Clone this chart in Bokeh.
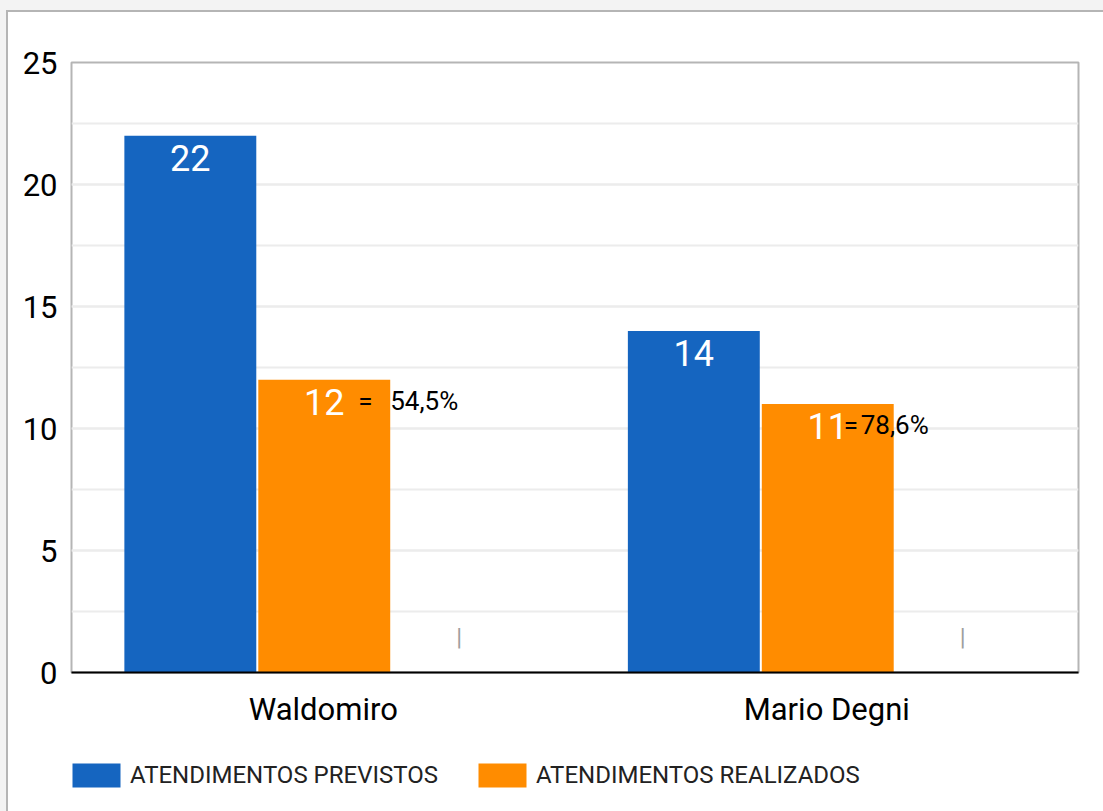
from bokeh.plotting import figure
from bokeh.layouts import column
from bokeh.models import (ColumnDataSource, FactorRange, Range1d, SingleIntervalTicker,
                          Legend, LegendItem, GlobalInlineStyleSheet)
from bokeh.transform import dodge
from bokeh.core.properties import value
from bokeh.embed import file_html
from bokeh.resources import INLINE

# ---- data ----
categories = ["Waldomiro", "Mario Degni"]
previstos = [22, 14]
realizados = [12, 11]
extra = [0, 0]
previstos_labels = ["22", "14"]
realizados_labels = ["12", "11"]
equals_labels = ["=", "="]
percent_labels = ["54,5%", "78,6%"]
extra_labels = ["|", "|"]
series_names = ["ATENDIMENTOS PREVISTOS", "ATENDIMENTOS REALIZADOS"]

# styles (pixel offsets of the annotations)
eq_offsets = [34, 16]
pct_offsets = [66, 33]

BLUE = "#1565C0"
ORANGE = "#FF8C00"
FONT = "Roboto"

src = ColumnDataSource(dict(
    cat=categories, prev=previstos, real=realizados, extra=extra,
    prev_lab=previstos_labels, real_lab=realizados_labels,
    eq=equals_labels, pct=percent_labels, extra_lab=extra_labels,
    eq_off=eq_offsets, pct_off=pct_offsets,
))

p = figure(x_range=FactorRange(factors=categories, range_padding=0),
           y_range=Range1d(0, 25),
           width=1095, height=720,
           min_border_left=63, min_border_right=25,
           min_border_top=50, min_border_bottom=60,
           output_backend="svg", toolbar_location=None)

W = 0.262
r1 = p.vbar(x=dodge("cat", -0.264, range=p.x_range), top="prev", width=W,
            source=src, fill_color=BLUE, line_color=None)
r2 = p.vbar(x=dodge("cat", 0.002, range=p.x_range), top="real", width=W,
            source=src, fill_color=ORANGE, line_color=None)

# value labels inside bars
p.text(x=dodge("cat", -0.264, range=p.x_range), y="prev", text="prev_lab", source=src,
       text_color="white", text_font=value(FONT), text_font_size="36px",
       text_align="center", text_baseline="top", y_offset=9)
p.text(x=dodge("cat", 0.002, range=p.x_range), y="real", text="real_lab", source=src,
       text_color="white", text_font=value(FONT), text_font_size="36px",
       text_align="center", text_baseline="top", y_offset=9)
# "=" and percentage annotations
p.text(x=dodge("cat", 0.002, range=p.x_range), y="real", text="eq", source=src,
       x_offset="eq_off", y_offset=6,
       text_color="black", text_font=value(FONT), text_font_size="26px",
       text_align="left", text_baseline="top")
p.text(x=dodge("cat", 0.002, range=p.x_range), y="real", text="pct", source=src,
       x_offset="pct_off", y_offset=6,
       text_color="black", text_font=value(FONT), text_font_size="26px",
       text_align="left", text_baseline="top")
# empty third series marker
p.text(x=dodge("cat", 0.27, range=p.x_range), y="extra", text="extra_lab", source=src,
       y_offset=-36, text_color="#9e9e9e", text_font=value(FONT), text_font_size="24px",
       text_align="center", text_baseline="middle")

# axes
p.yaxis.ticker = SingleIntervalTicker(interval=5, num_minor_ticks=2)
p.yaxis.axis_line_color = None
p.yaxis.major_tick_line_color = None
p.yaxis.minor_tick_line_color = None
p.yaxis.major_tick_out = 0
p.yaxis.minor_tick_out = 0
p.yaxis.major_label_text_font = FONT
p.yaxis.major_label_text_font_size = "31px"
p.yaxis.major_label_text_color = "black"
p.yaxis.major_label_standoff = 14

p.xaxis.axis_line_color = "black"
p.xaxis.axis_line_width = 2
p.xaxis.major_tick_line_color = None
p.xaxis.minor_tick_line_color = None
p.xaxis.major_tick_out = 0
p.xaxis.minor_tick_out = 0
p.xaxis.axis_label_standoff = 0
p.xaxis.major_label_text_font = FONT
p.xaxis.major_label_text_font_size = "31px"
p.xaxis.major_label_text_color = "black"
p.xaxis.major_label_standoff = 18

p.xgrid.grid_line_color = None
p.ygrid.grid_line_color = "#ececec"
p.ygrid.grid_line_width = 2
p.ygrid.minor_grid_line_color = "#ececec"
p.ygrid.minor_grid_line_width = 2

p.outline_line_color = "#b5b5b5"
p.outline_line_width = 2
p.background_fill_color = "white"
p.border_fill_color = "white"

# ---- legend strip below the chart (swatches drawn off-range, shown only in legend) ----
lf = figure(width=1095, height=79, x_range=Range1d(0, 1), y_range=Range1d(0, 1),
            min_border=0, output_backend="svg", toolbar_location=None)
lf.axis.visible = False
lf.grid.grid_line_color = None
lf.outline_line_color = None
lf.background_fill_color = "white"
lf.border_fill_color = "white"
lg1 = lf.vbar(x=[-5], top=[-5], width=0.1, fill_color=BLUE, line_color=None)
lg2 = lf.vbar(x=[-5], top=[-5], width=0.1, fill_color=ORANGE, line_color=None)

legend = Legend(items=[LegendItem(label=series_names[0], renderers=[lg1]),
                       LegendItem(label=series_names[1], renderers=[lg2])],
                orientation="horizontal", location=(-5, 21),
                glyph_width=60, glyph_height=30, label_standoff=4, spacing=34,
                padding=0, margin=0, border_line_color=None, background_fill_alpha=0,
                label_text_font=FONT, label_text_font_size="24px", label_text_color="#222222")
lf.add_layout(legend, "center")

page = column(p, lf, spacing=0)
page.stylesheets = [GlobalInlineStyleSheet(css="html, body { background: #f3f3f3; margin: 0; }")]
page.margin = (10, 0, 0, 6)
page.styles = {"border-top": "2px solid #b5b5b5", "border-left": "2px solid #b5b5b5",
               "background": "white"}

open("out.html", "w").write(file_html(page, INLINE))
